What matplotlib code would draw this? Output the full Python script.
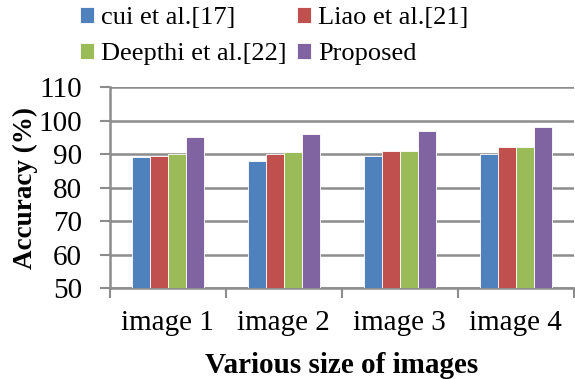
import numpy as np
import matplotlib.pyplot as plt

# accuracy per method for each image size
categories = ["image 1", "image 2", "image 3", "image 4"]
cui = [89, 88, 89.5, 90]
liao = [89.5, 90, 91, 92]
deepthi = [90, 90.5, 91, 92]
proposed = [95, 96, 97, 98]

series = [
    ("cui et al.[17]", cui, "#4F81BD"),
    ("Liao et al.[21]", liao, "#C0504D"),
    ("Deepthi et al.[22]", deepthi, "#9BBB59"),
    ("Proposed", proposed, "#8064A2"),
]

plt.rcParams["font.family"] = ["Liberation Serif", "DejaVu Serif"]

fig = plt.figure(figsize=(5.75, 3.79), dpi=100)
ax = fig.add_axes([0.191, 0.240, 0.807, 0.530])

x = np.arange(len(categories))
w = 0.155
bars = []
for i, (name, vals, col) in enumerate(series):
    b = ax.bar(x + (i - 1.5) * w, vals, w, color=col, edgecolor="white",
               linewidth=0.6, label=name, zorder=3)
    bars.append(b)

grid_col = "#8c8c8c"
ax.set_ylim(50, 110)
ax.set_yticks(range(50, 111, 10))
ax.set_xlim(-0.5, 3.5)
ax.set_xticks(x)
ax.set_xticklabels(categories)
ax.set_xticks(np.arange(-0.5, 3.6, 1), minor=True)
ax.tick_params(axis="x", which="major", length=0, labelsize=21, pad=16)
ax.tick_params(axis="x", which="minor", length=7, width=1.5, color=grid_col)
ax.tick_params(axis="y", length=7, width=1.5, color=grid_col, labelsize=21, pad=13)
ax.yaxis.grid(True, color=grid_col, linewidth=1.8, zorder=0)

for s in ["top", "right"]:
    ax.spines[s].set_visible(False)
for s in ["left", "bottom"]:
    ax.spines[s].set_color(grid_col)
    ax.spines[s].set_linewidth(1.8)

ax.set_ylabel("Accuracy (%)", fontsize=19.5, fontweight="bold")
ax.yaxis.set_label_coords(-0.155, 0.5)
ax.set_xlabel("Various size of images", fontsize=21, fontweight="bold", labelpad=11)

# row-wise legend order: cui, Liao / Deepthi, Proposed
order = [0, 2, 1, 3]
fig.legend([bars[k] for k in order], [series[k][0] for k in order],
           loc="upper left", bbox_to_anchor=(0.097, 1.045), ncol=2, frameon=False,
           fontsize=19, handlelength=0.55, handleheight=0.55, handletextpad=0.25,
           columnspacing=0.4, labelspacing=0.53)

plt.savefig("out.png", dpi=100)
plt.close()
